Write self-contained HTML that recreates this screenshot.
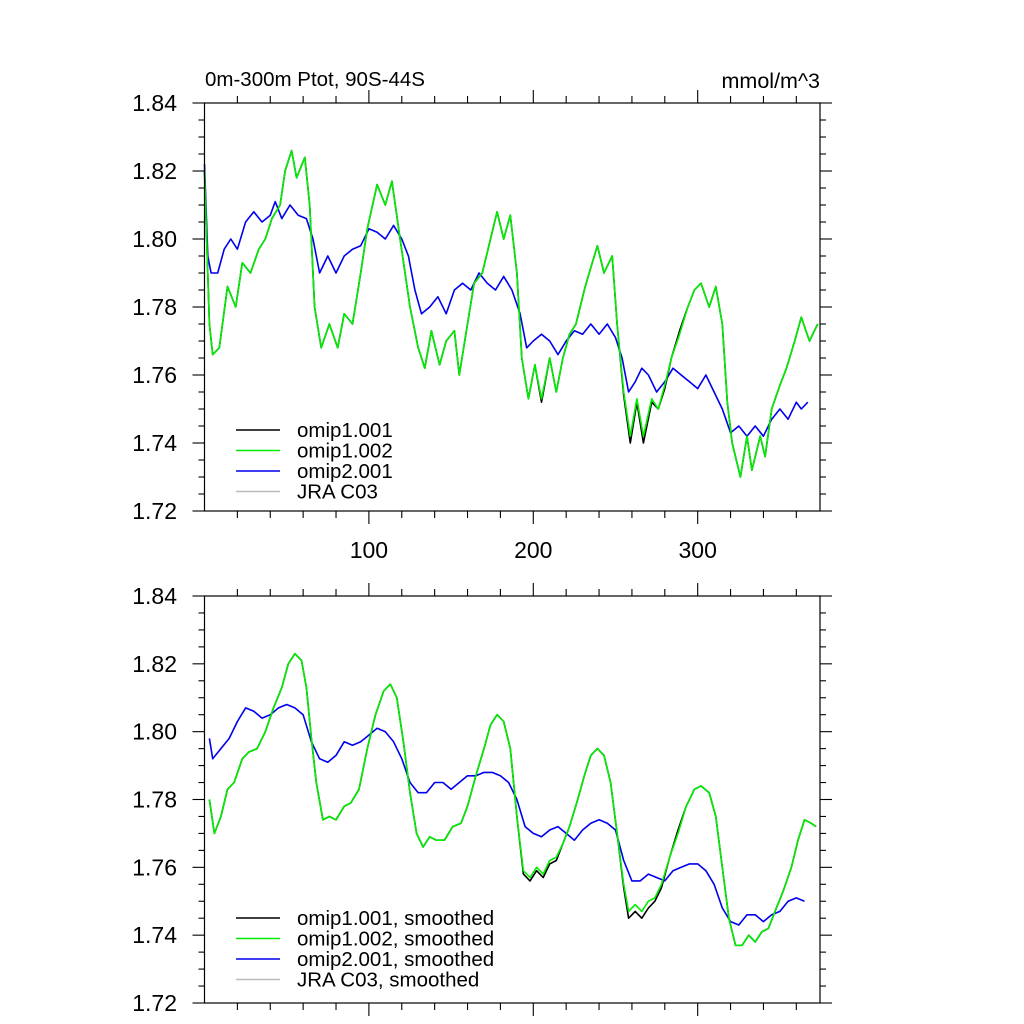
<!DOCTYPE html>
<html><head><meta charset="utf-8"><style>
body{margin:0;background:#fff}
svg{display:block;font-family:"Liberation Sans",sans-serif}
</style></head><body>
<svg id="chart" width="1024" height="1024"></svg>
<script>
// ---- data (top panel, raw) ----
const greenX=[0,3,5,9,14,19,23,28,33,37,41,46,49,53,56,61,64,67,71,76,81,85,90,95,99,105,110,114,119,125,130,134,138,143,147,152,155,160,164,169,174,178,182,186,190,193,197,201,205,210,214,218,222,226,231,234,239,243,248,251,255,259,263,267,272,276,280,284,289,294,298,302,307,311,315,318,321,326,330,333,338,341,345,350,354,359,363,368,373];
const greenY=[1.82,1.775,1.766,1.768,1.786,1.78,1.793,1.79,1.797,1.80,1.806,1.81,1.82,1.826,1.818,1.824,1.81,1.78,1.768,1.775,1.768,1.778,1.775,1.79,1.803,1.816,1.81,1.817,1.80,1.78,1.768,1.762,1.773,1.763,1.77,1.773,1.76,1.775,1.787,1.79,1.80,1.808,1.80,1.807,1.79,1.765,1.753,1.763,1.753,1.765,1.755,1.765,1.772,1.775,1.785,1.79,1.798,1.79,1.795,1.775,1.755,1.742,1.753,1.742,1.753,1.75,1.757,1.765,1.772,1.78,1.785,1.787,1.78,1.786,1.775,1.752,1.74,1.73,1.742,1.732,1.742,1.736,1.75,1.757,1.762,1.77,1.777,1.77,1.775];
const blackY=[1.82,1.775,1.766,1.768,1.786,1.78,1.793,1.79,1.797,1.80,1.806,1.81,1.82,1.826,1.818,1.824,1.81,1.78,1.768,1.775,1.768,1.778,1.775,1.79,1.803,1.816,1.81,1.817,1.80,1.78,1.768,1.762,1.773,1.763,1.77,1.773,1.76,1.775,1.787,1.79,1.80,1.808,1.80,1.807,1.79,1.765,1.753,1.763,1.752,1.765,1.755,1.765,1.772,1.775,1.785,1.79,1.798,1.79,1.795,1.775,1.754,1.740,1.752,1.740,1.752,1.75,1.756,1.765,1.773,1.78,1.785,1.787,1.78,1.786,1.775,1.752,1.74,1.73,1.742,1.732,1.742,1.736,1.75,1.757,1.762,1.77,1.777,1.77,1.775];
const blueX=[0,2,4,8,12,16,20,25,30,35,40,43,47,52,57,62,66,70,75,80,85,90,95,100,105,110,115,120,124,128,132,137,142,147,152,157,162,167,172,177,182,187,192,196,200,205,210,215,220,225,230,235,240,245,250,254,258,262,266,270,275,280,285,290,295,300,305,310,315,320,325,330,335,340,345,350,355,360,363,367];
const blueY=[1.822,1.795,1.79,1.79,1.797,1.80,1.797,1.805,1.808,1.805,1.807,1.811,1.806,1.81,1.807,1.806,1.80,1.79,1.795,1.79,1.795,1.797,1.798,1.803,1.802,1.80,1.804,1.80,1.795,1.785,1.778,1.78,1.783,1.778,1.785,1.787,1.785,1.79,1.787,1.785,1.789,1.785,1.778,1.768,1.77,1.772,1.77,1.766,1.77,1.773,1.772,1.775,1.772,1.775,1.771,1.765,1.755,1.758,1.762,1.76,1.755,1.758,1.762,1.76,1.758,1.756,1.76,1.755,1.75,1.743,1.745,1.742,1.745,1.742,1.747,1.75,1.747,1.752,1.75,1.752];
// ---- data (bottom panel, smoothed) ----
const sGreenX=[3,6,10,14,18,23,27,32,37,42,47,51,55,59,62,65,68,72,76,80,85,89,94,99,104,109,113,117,121,125,129,133,137,141,146,151,156,160,165,170,174,178,182,186,190,194,198,202,206,210,214,218,222,227,231,235,239,243,247,251,255,258,262,266,270,274,278,283,288,293,298,302,307,311,315,319,323,327,331,335,339,343,347,352,357,361,365,369,372];
const sGreenY=[1.78,1.77,1.775,1.783,1.785,1.792,1.794,1.795,1.80,1.807,1.813,1.82,1.823,1.821,1.813,1.798,1.785,1.774,1.775,1.774,1.778,1.779,1.783,1.795,1.805,1.812,1.814,1.81,1.797,1.782,1.77,1.766,1.769,1.768,1.768,1.772,1.773,1.778,1.787,1.795,1.802,1.805,1.803,1.795,1.775,1.759,1.757,1.76,1.758,1.762,1.763,1.767,1.772,1.78,1.787,1.793,1.795,1.793,1.785,1.77,1.755,1.747,1.749,1.747,1.75,1.751,1.755,1.763,1.77,1.778,1.783,1.784,1.782,1.775,1.76,1.745,1.737,1.737,1.74,1.738,1.741,1.742,1.747,1.753,1.76,1.768,1.774,1.773,1.772];
const sBlackY=[1.78,1.77,1.775,1.783,1.785,1.792,1.794,1.795,1.80,1.807,1.813,1.82,1.823,1.821,1.813,1.798,1.785,1.774,1.775,1.774,1.778,1.779,1.783,1.795,1.805,1.812,1.814,1.81,1.797,1.782,1.77,1.766,1.769,1.768,1.768,1.772,1.773,1.778,1.787,1.795,1.802,1.805,1.803,1.795,1.775,1.758,1.756,1.759,1.757,1.761,1.762,1.767,1.772,1.78,1.787,1.793,1.795,1.793,1.785,1.77,1.754,1.745,1.747,1.745,1.748,1.75,1.754,1.763,1.771,1.778,1.783,1.784,1.782,1.775,1.76,1.745,1.737,1.737,1.74,1.738,1.741,1.742,1.747,1.753,1.76,1.768,1.774,1.773,1.772];
const sBlueX=[3,5,10,15,20,25,30,35,40,45,50,55,60,65,70,75,80,85,90,95,100,105,110,115,120,125,130,135,140,145,150,155,160,165,170,175,180,185,190,195,200,205,210,215,220,225,230,235,240,245,250,255,260,265,270,275,280,285,290,295,300,305,310,315,320,325,330,335,340,345,350,355,360,365];
const sBlueY=[1.798,1.792,1.795,1.798,1.803,1.807,1.806,1.804,1.805,1.807,1.808,1.807,1.805,1.797,1.792,1.791,1.793,1.797,1.796,1.797,1.799,1.801,1.80,1.797,1.792,1.785,1.782,1.782,1.785,1.785,1.783,1.785,1.787,1.787,1.788,1.788,1.787,1.785,1.78,1.772,1.77,1.769,1.771,1.772,1.77,1.768,1.771,1.773,1.774,1.773,1.771,1.762,1.756,1.756,1.758,1.757,1.756,1.759,1.76,1.761,1.761,1.759,1.755,1.748,1.744,1.743,1.746,1.746,1.744,1.746,1.747,1.75,1.751,1.75];
const yTicks=[1.72,1.74,1.76,1.78,1.80,1.82,1.84];
const xTicks=[100,200,300];
const legendTop=["omip1.001","omip1.002","omip2.001","JRA C03"];
const legendBot=["omip1.001, smoothed","omip1.002, smoothed","omip2.001, smoothed","JRA C03, smoothed"];
const legendColors=["#000","#00ee00","#0000ee","#bbb"];

const NS="http://www.w3.org/2000/svg";
const svg=document.getElementById('chart');
const L=204.5,R=820,XMIN=0,XMAX=374.4;
function sx(v){return L+(v-XMIN)/(XMAX-XMIN)*(R-L);}
function mk(tag,attrs,parent){const e=document.createElementNS(NS,tag);for(const k in attrs)e.setAttribute(k,attrs[k]);(parent||svg).appendChild(e);return e;}

function panel(top,bot,name,series,legend,legY,showXLabels){
  const g=mk('g',{});
  
  
  const sy=v=>bot-(v-1.72)/0.12*(bot-top);
  series.forEach(s=>{
    const p=mk('polyline',{points:s.x.map((x,i)=>sx(x).toFixed(1)+','+sy(s.y[i]).toFixed(1)).join(' '),fill:'none',stroke:s.c,'stroke-width':1.6,'stroke-linejoin':'round'},g);
    
    
  });
  const f=mk('rect',{x:L,y:top,width:R-L,height:bot-top,fill:'none',stroke:'#000','stroke-width':1.2},g);
  
  
  for(let v=1.72;v<=1.8401;v+=0.005){
    const major=Math.abs((v-1.72)/0.02-Math.round((v-1.72)/0.02))<0.01;
    const len=major?12:6, y=sy(v);
    mk('line',{x1:L-len,x2:L,y1:y,y2:y,stroke:'#000','stroke-width':1.1},g);
    mk('line',{x1:R,x2:R+len,y1:y,y2:y,stroke:'#000','stroke-width':1.1},g);
  }
  yTicks.forEach(v=>{
    const t=mk('text',{x:177,y:sy(v)+8,'text-anchor':'end','font-size':23},g);
    t.textContent=v.toFixed(2);
    
    
  });
  for(let v=20;v<=XMAX;v+=20){
    const major=v%100===0,len=major?13:7,x=sx(v);
    mk('line',{x1:x,x2:x,y1:bot,y2:bot+len,stroke:'#000','stroke-width':1.1},g);
    mk('line',{x1:x,x2:x,y1:top-len,y2:top,stroke:'#000','stroke-width':1.1},g);
  }
  if(showXLabels) xTicks.forEach(v=>{
    const t=mk('text',{x:sx(v),y:bot+47,'text-anchor':'middle','font-size':23},g);
    t.textContent=v;
    
    
  });
  legend.forEach((lab,i)=>{
    const y=legY+i*20.5;
    const ln=mk('line',{x1:236,x2:280,y1:y,y2:y,stroke:legendColors[i],'stroke-width':1.6},g);
    
    
    const t=mk('text',{x:297,y:y+7,'font-size':20.5},g);
    t.textContent=lab;
    
    
  });
}
panel(103,511,'top-panel',[
  {x:blueX,y:blueY,c:'#0000ee',n:'omip2-line'},
  {x:greenX,y:blackY,c:'#000',n:'omip1-001-line'},
  {x:greenX,y:greenY,c:'#00ee00',n:'omip1-002-line'}
],legendTop,430,true);
panel(596,1003,'bottom-panel',[
  {x:sBlueX,y:sBlueY,c:'#0000ee',n:'omip2-smoothed-line'},
  {x:sGreenX,y:sBlackY,c:'#000',n:'omip1-001-smoothed-line'},
  {x:sGreenX,y:sGreenY,c:'#00ee00',n:'omip1-002-smoothed-line'}
],legendBot,918,false);
const t1=mk('text',{x:205,y:86,'font-size':20.5});
t1.textContent='0m-300m Ptot, 90S-44S';


const t2=mk('text',{x:820,y:88,'font-size':21.5,'text-anchor':'end'});
t2.textContent='mmol/m^3';


</script>
</body></html>
